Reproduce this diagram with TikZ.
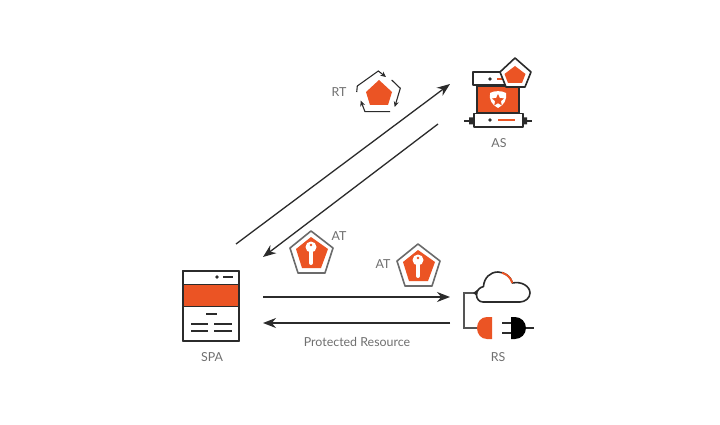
\documentclass[tikz,border=0pt]{standalone}
\usepackage{fontspec}
\setmainfont{Lato}
\usetikzlibrary{arrows.meta}
\definecolor{brand}{HTML}{EB5424}
\definecolor{ink}{HTML}{2B2B2B}
\definecolor{txt}{HTML}{6F6F6F}
\tikzset{
  x=1pt,y=-1pt,
  lbl/.style={text=txt,font=\fontsize{12.4}{14}\selectfont,inner sep=0pt},
  flow/.style={draw=ink,line width=1.3pt,-{Stealth[length=13pt,width=10pt]}},
  icon/.style={draw=ink,line width=1.6pt,line join=round},
  thin line/.style={draw=ink,line width=1.4pt},
  cycle arrow/.style={draw=ink,line width=1.1pt,-{Stealth[length=5.5pt,width=5pt]}},
  pics/keybadge/.style={code={
    \draw[draw=ink!70,line width=1.6pt,fill=white,line join=round] (0,-16) -- (22,1) -- (14,26) -- (-13,26) -- (-21,1) -- cycle;
    \fill[brand] (0,-10) -- (17,2) -- (10,21) -- (-9,21) -- (-15,2) -- cycle;
    \fill[white] (0,0) circle (5.5);
    \draw[white,line width=4pt,line cap=round] (0,0) -- (0,16);
    \fill[brand] (0,-2) circle (1.4);
  }}
}
\begin{document}
\begin{tikzpicture}
\useasboundingbox[fill=white] (0,0) rectangle (720,425);

% connector ends
\coordinate (spaOutA) at (236,244);
\coordinate (asIn) at (450,84);
\coordinate (asOut) at (438,124);
\coordinate (spaInA) at (263,257);
\coordinate (spaOutB) at (263,297);
\coordinate (rsIn) at (450,297);
\coordinate (rsOut) at (450,323);
\coordinate (spaInB) at (263,323);

\draw[flow] (spaOutA) -- (asIn);
\draw[flow] (asOut) -- (spaInA);
\draw[flow] (spaOutB) -- (rsIn);
\draw[flow] (rsOut) -- (spaInB);

% labels
\node[lbl] (rtLabel) at (339,92) {RT};
\node[lbl] (asLabel) at (499,143) {AS};
\node[lbl] (atLabelA) at (339,236) {AT};
\node[lbl] (atLabelB) at (383,264) {AT};
\node[lbl] (spaLabel) at (212,357) {SPA};
\node[lbl] (rsLabel) at (498,357) {RS};
\node[lbl] (resLabel) at (357,342) {Protected Resource};

% RT icon
\fill[brand,line join=round] (379,80) -- (392,92) -- (388,105) -- (370,105) -- (366,92) -- cycle;
\draw[cycle arrow] (356.7,92) -- (357.3,86) -- (378.3,71) -- (386,77);
\draw[cycle arrow] (391.7,80) -- (400.3,88.3) -- (394.7,107);
\draw[cycle arrow] (390,111.7) -- (365,111.7) -- (360.7,100.7);

% AS icon
\draw[icon,fill=white] (473,72) rectangle (505,85);
\fill[ink] (490,79) circle (1.9);
\draw[brand,line width=1.3pt] (497,79) -- (503,79);
\draw[icon,fill=brand] (477,86) rectangle (519,113);
\draw[icon,line width=1.2pt] (464,121) -- (474,121) (523,121) -- (532,121);
\fill[ink] (469,117.5) rectangle (474,124.5) (523,117.5) rectangle (527,124.5);
\draw[icon,fill=white] (474,113.5) rectangle (523,127);
\fill[ink] (490,120) circle (1.9);
\draw[brand,line width=1.3pt] (498,120) -- (515,120);
% shield with star
\fill[white] (490,93) .. controls (494,90.5) and (502,90.5) .. (506,93) .. controls (507,100) and (504,105) .. (498,108) .. controls (492,105) and (489,100) .. (490,93) -- cycle;
\fill[brand] (498,94) -- (499.8,98) -- (504,98.4) -- (500.9,101.2) -- (501.8,105.4) -- (498,103.2) -- (494.2,105.4) -- (495.1,101.2) -- (492,98.4) -- (496.2,98) -- cycle;
% pentagon overlay
\draw[icon,fill=white] (515,58) -- (531,72) -- (525,87) -- (506,87) -- (500,72) -- cycle;
\fill[brand] (515,66) -- (525.5,74) -- (522,83) -- (508,83) -- (504.5,74) -- cycle;

% AT badges
\pic at (311,247) {keybadge};
\pic at (418,260) {keybadge};

% SPA icon
\draw[icon,fill=white,line width=1.4pt] (183,271) rectangle (239,341);
\fill[brand] (183,284) rectangle (239,306);
\draw[thin line,line width=.9pt] (183,284) -- (239,284) (183,306) -- (239,306);
\draw[icon,fill=none,line width=1.4pt] (183,271) rectangle (239,341);
\fill[ink] (217,277) circle (1.9);
\draw[thin line] (223,277) -- (233,277);
\draw[thin line] (206,314) -- (217,314);
\draw[thin line] (191,324) -- (208,324) (214,324) -- (232,324);
\draw[thin line] (191,331) -- (208,331) (214,331) -- (232,331);

% RS icon
\draw[icon] (483,302) .. controls (479,302) and (476.5,298.5) .. (476.5,295)
  .. controls (476.5,291) and (479,287.5) .. (483.5,286.5)
  .. controls (484,278) and (490,272) .. (498,272)
  .. controls (505,272) and (511,277) .. (512.5,283)
  .. controls (521,281) and (530,286) .. (530,293)
  .. controls (530,298) and (525,302) .. (520,302) -- cycle;
\draw[brand,line width=1.9pt] (502,272.8) .. controls (507,274) and (511,278) .. (512.3,283);
\draw[thin line,draw=ink!80] (476,293) -- (464,293) -- (464,328) -- (477,328);
\fill[ink] (473,293) -- (477,290) -- (477,296) -- cycle;
\fill[brand] (492,317) -- (487,317) .. controls (481,317) and (477,322) .. (477,328) .. controls (477,334) and (481,339) .. (487,339) -- (492,339) -- cycle;
\fill[black] (511,317) -- (515,317) .. controls (521,317) and (526,322) .. (526,328) .. controls (526,334) and (521,339) .. (515,339) -- (511,339) -- cycle;
\draw[thin line] (502,323) -- (511,323) (502,333) -- (511,333);
\draw[thin line] (526,328) -- (534,328);
\end{tikzpicture}
\end{document}
